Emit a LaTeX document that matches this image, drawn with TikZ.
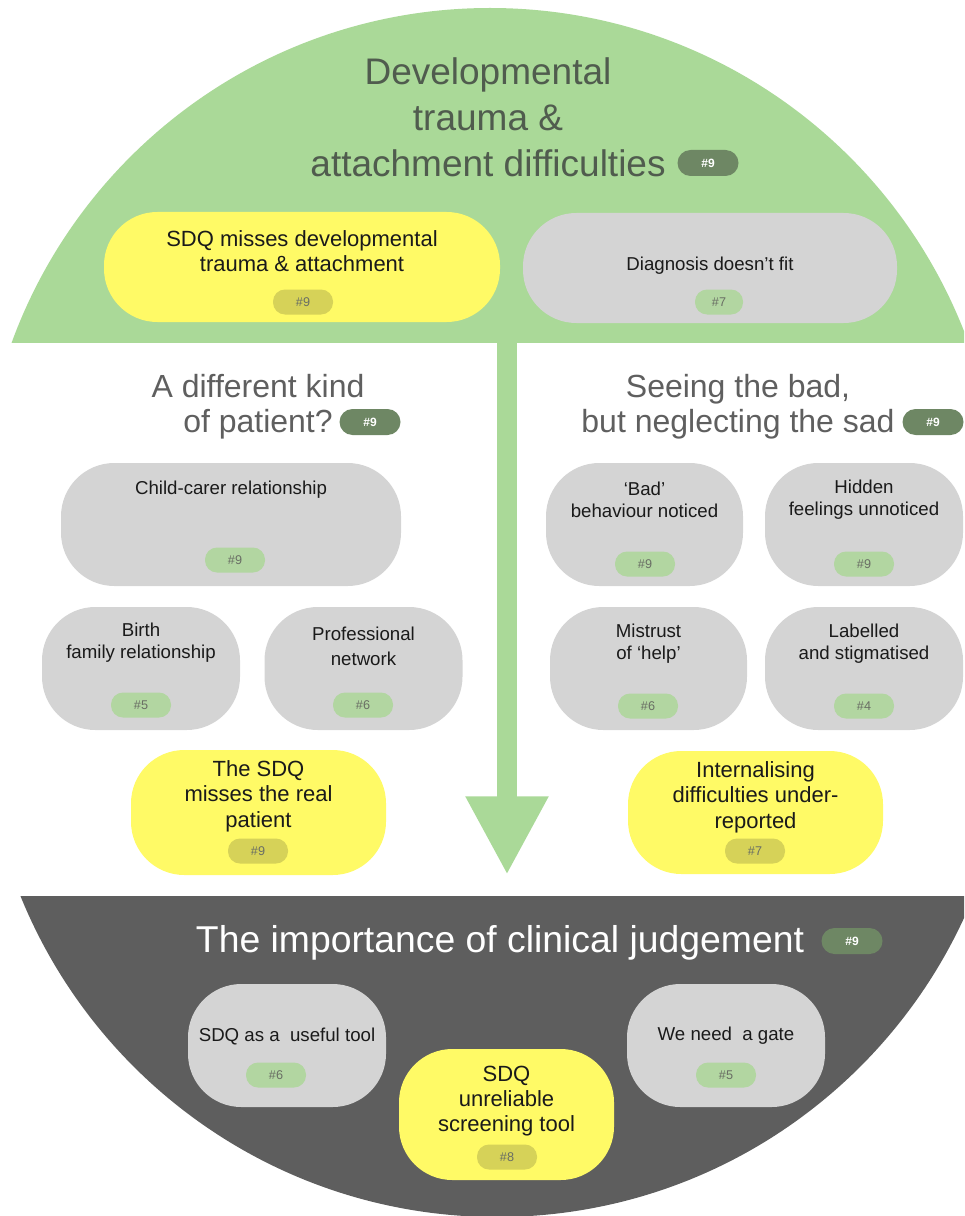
\documentclass[tikz,border=0pt]{standalone}
\usepackage{fontspec}
\setmainfont{Liberation Sans}
\usetikzlibrary{arrows.meta}
\definecolor{leaf}{RGB}{170,217,152}
\definecolor{slate}{RGB}{94,94,94}
\definecolor{sdqyellow}{RGB}{255,250,102}
\definecolor{boxgrey}{RGB}{212,212,212}
\definecolor{tagdark}{RGB}{110,135,100}
\definecolor{taglight}{RGB}{178,214,161}
\definecolor{tagyellow}{RGB}{214,210,88}
\definecolor{tagtext}{RGB}{105,110,100}
\definecolor{leaftext}{RGB}{80,92,78}
\definecolor{midtext}{RGB}{95,95,95}
\definecolor{ink}{RGB}{26,26,26}
\tikzset{
  greybox/.style={fill=boxgrey, rounded corners=40pt, inner sep=0pt},
  yellowbox/.style={fill=sdqyellow, rounded corners=40pt, inner sep=0pt},
  boxtext/.style={align=center, inner sep=0pt, text=ink, font=\fontsize{14}{16.5}\selectfont},
  yellowtext/.style={align=center, inner sep=0pt, text=ink, font=\fontsize{16.5}{19}\selectfont},
  tag/.style={rounded corners=9pt, inner sep=0pt, minimum height=18.75pt, text=tagtext, font=\fontsize{9.5}{9.5}\selectfont},
  darktag/.style={fill=tagdark, rounded corners=9.75pt, inner sep=0pt, minimum width=45.75pt, minimum height=19.5pt, text=white, font=\bfseries\fontsize{9}{9}\selectfont},
  toptitle/.style={align=center, inner sep=0pt, text=leaftext, font=\fontsize{27.75}{34.5}\selectfont},
  midtitle/.style={align=center, inner sep=0pt, text=midtext, font=\fontsize{24}{26.25}\selectfont},
  lowtitle/.style={inner sep=0pt, text=white, font=\fontsize{28}{28}\selectfont},
  flow/.style={draw=leaf, line width=15pt, -{Triangle[width=58pt,length=59pt]}}
}
\begin{document}
\begin{tikzpicture}[x=0.75pt,y=-0.75pt]
\useasboundingbox (0,0) rectangle (964,1216);
% the two bands of the circle
\begin{scope}
  \clip (0,0) rectangle (964,342);
  \fill[leaf] (490,517) circle (381.75pt);
\end{scope}
\begin{scope}
  \clip (0,896) rectangle (964,1216);
  \fill[slate] (497,703) circle (385.5pt);
\end{scope}
% arrow down the middle
\coordinate (flowtop) at (507,342);
\coordinate (flowtip) at (507,875);
\draw[flow] (flowtop) -- (flowtip);
% titles
\node[toptitle] (devtitle) at (488,117) {Developmental\\trauma \&\\attachment difficulties};
\node[darktag] (devtag) at (708,163) {\#9};
\node[midtitle] (kindtitle) at (258,407) {A different kind\\of patient?};
\node[darktag] (kindtag) at (370,422) {\#9};
\node[midtitle] (badtitle) at (738,407) {Seeing the bad,\\but neglecting the sad};
\node[darktag] (badtag) at (933,422) {\#9};
\node[lowtitle] (judgetitle) at (500,943) {The importance of clinical judgement};
\node[darktag] (judgetag) at (852,941) {\#9};
% grey boxes: name/x/y/w/h/text y/text/tag x/tag y/tag w/tag
\foreach \n/\x/\y/\w/\h/\ty/\t/\bx/\by/\bw/\b in {
  diag/710/268/374/110/266/{Diagnosis doesn’t fit}/719/302/48/7,
  carer/231/524.5/340/123/490/{Child-carer relationship}/235/560/60/9,
  birth/141/668.5/198/123/643/{Birth\\family relationship}/141/705/60/5,
  network/363.5/668.5/198/123/646/{Professional\\[2pt]network}/363/705/60/6,
  badseen/644.5/524.5/197/123/500/{‘Bad’\\behaviour noticed}/645/564/60/9,
  hidden/864/524.5/198/123/500/{Hidden\\feelings unnoticed}/864/564/60/9,
  mistrust/648.5/668.5/197/123/643.5/{Mistrust\\of ‘help’}/648/706/60/6,
  labelled/864/668.5/198/123/643.5/{Labelled\\and stigmatised}/864/706/60/4,
  useful/287/1045.5/198/123/1036/{SDQ as a~ useful tool}/276/1075/60/6,
  gate/726/1045.5/198/123/1036/{We need~ a gate}/726/1075/60/5}
{
  \node[greybox, minimum width=\w*0.75pt, minimum height=\h*0.75pt] (\n) at (\x,\y) {};
  \node[boxtext] (\n-txt) at (\x,\ty) {\t};
  \node[tag, fill=taglight, minimum width=\bw*0.75pt] (\n-tag) at (\bx,\by) {\#\b};
}
% yellow boxes
\foreach \n/\x/\y/\w/\h/\ty/\t/\bx/\by/\b in {
  sdqtop/302/267/396/110/251/{SDQ misses developmental\\trauma \& attachment}/303/302/9,
  realpatient/258.5/812.5/255/125/796/{The SDQ\\misses the real\\patient}/258/851/9,
  internal/755.5/812.5/255/123/797/{Internalising\\difficulties under-\\reported}/755/851/7,
  unreliable/506.5/1114.5/215/131/1101/{SDQ\\unreliable\\screening tool}/507/1157/8}
{
  \node[yellowbox, minimum width=\w*0.75pt, minimum height=\h*0.75pt] (\n) at (\x,\y) {};
  \node[yellowtext] (\n-txt) at (\x,\ty) {\t};
  \node[tag, fill=tagyellow, minimum width=45pt] (\n-tag) at (\bx,\by) {\#\b};
}
\end{tikzpicture}
\end{document}
